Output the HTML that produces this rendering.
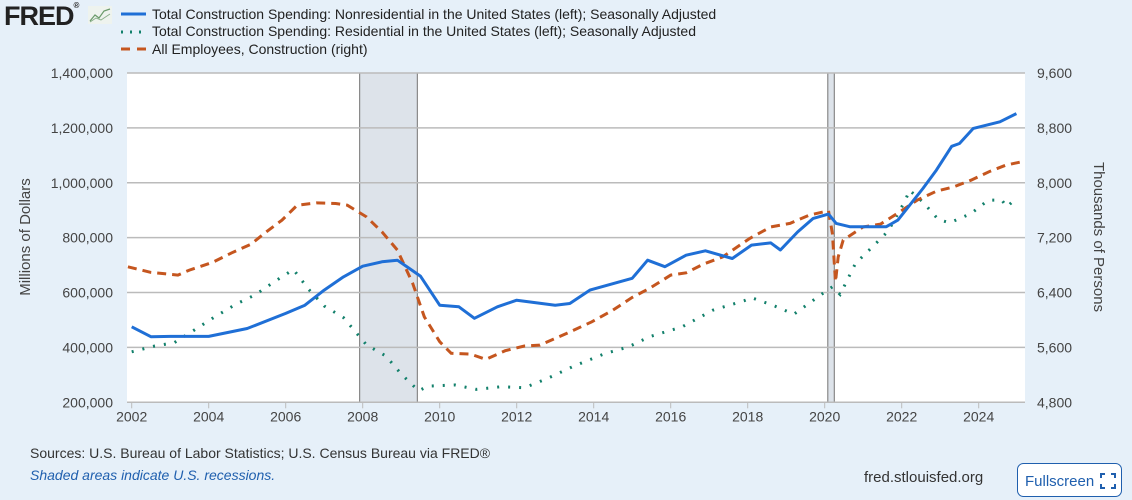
<!DOCTYPE html>
<html><head><meta charset="utf-8">
<style>
body{margin:0;width:1132px;height:500px;background:#e6f0f9;font-family:"Liberation Sans",sans-serif;overflow:hidden;position:relative}
.abs{position:absolute}
</style></head>
<body>
<div class="abs" style="left:4px;top:1px;font-size:27px;font-weight:900;color:#222;letter-spacing:-1px">FRED<span style="font-size:8px;vertical-align:top">®</span></div>
<svg class="abs" style="left:88px;top:6px" width="24" height="18"><rect width="24" height="18" fill="#eef3ee"/><polyline points="2,15 7,9 11,12 16,5 22,3" fill="none" stroke="#6a9a6a" stroke-width="1.2"/><polyline points="2,16 8,12 13,14 22,8" fill="none" stroke="#8ab08a" stroke-width="1"/></svg>
<svg class="abs" style="left:0;top:0" width="1132" height="500" id="chart">
<g font-size="14" fill="#222">
<line x1="121" y1="14" x2="146" y2="14" stroke="#1f6fd6" stroke-width="3"/>
<text x="152" y="19">Total Construction Spending: Nonresidential in the United States (left); Seasonally Adjusted</text>
<line x1="121" y1="32" x2="146" y2="32" stroke="#12806b" stroke-width="3" stroke-dasharray="2,7"/>
<text x="152" y="36">Total Construction Spending: Residential in the United States (left); Seasonally Adjusted</text>
<line x1="121" y1="49" x2="146" y2="49" stroke="#c5561f" stroke-width="3" stroke-dasharray="9,7"/>
<text x="152" y="54">All Employees, Construction (right)</text>
</g>
<rect x="127" y="73" width="898" height="329" fill="#fff"/>
<g id="rec"></g><g id="grid"></g><g id="axes"></g><g id="series"></g>
<text transform="translate(30,237) rotate(-90)" text-anchor="middle" font-size="15" fill="#444">Millions of Dollars</text>
<text transform="translate(1094,237) rotate(90)" text-anchor="middle" font-size="15" fill="#444">Thousands of Persons</text>
<text x="30" y="458" font-size="14" fill="#333">Sources: U.S. Bureau of Labor Statistics; U.S. Census Bureau via FRED®</text>
<text x="30" y="480" font-size="14" font-style="italic" fill="#1f5fae">Shaded areas indicate U.S. recessions.</text>
<text x="864" y="482" font-size="15" fill="#333">fred.stlouisfed.org</text>
<g>
<rect x="1017.5" y="463.5" width="104" height="33" rx="6" fill="#fff" stroke="#1f5fae"/>
<text x="1025" y="486" font-size="15" fill="#1f5fae">Fullscreen</text>
<path d="M1101 478v-4h4M1111 474h4v4M1115 484v4h-4M1105 488h-4v-4" stroke="#1f5fae" stroke-width="2" fill="none"/>
</g>
</svg>
<script>
const leftTicks=[200000,400000,600000,800000,1000000,1200000,1400000];
const rightTicks=[4800,5600,6400,7200,8000,8800,9600];
const yearTicks=[2002,2004,2006,2008,2010,2012,2014,2016,2018,2020,2022,2024];
const recessions=[[2007.92,2009.42],[2020.08,2020.25]];
const nonresDates=[2002.0,2002.5,2003.0,2004.0,2005.0,2006.0,2006.5,2007.0,2007.5,2008.0,2008.5,2008.9,2009.2,2009.5,2010.0,2010.5,2010.9,2011.5,2012.0,2013.0,2013.38,2013.9,2015.0,2015.4,2015.85,2016.4,2016.9,2017.6,2018.1,2018.6,2018.85,2019.3,2019.7,2020.1,2020.3,2020.65,2021.6,2021.9,2022.55,2022.9,2023.3,2023.5,2023.86,2024.55,2024.98];
const nonresVals=[475000,439000,440000,440000,469000,524000,554000,609000,657000,696000,712000,718000,689000,660000,554000,548000,506000,548000,572000,554000,560000,609000,652000,718000,694000,736000,752000,724000,773000,781000,755000,821000,870000,886000,852000,840000,840000,864000,979000,1046000,1133000,1143000,1198000,1222000,1252000];
const resDates=[2002.0,2002.6,2003.1,2003.6,2004.1,2004.7,2005.2,2005.7,2006.2,2006.6,2007.0,2007.5,2008.1,2008.6,2009.0,2009.45,2009.7,2010.4,2010.95,2011.6,2012.2,2012.8,2013.5,2014.3,2014.9,2015.45,2016.3,2017.1,2017.9,2018.1,2018.65,2019.2,2019.95,2020.2,2020.4,2020.8,2021.2,2021.65,2022.1,2022.2,2022.55,2022.95,2023.25,2023.8,2024.25,2024.6,2024.73,2024.94];
const resVals=[384000,405000,417000,461000,506000,557000,591000,639000,684000,611000,551000,509000,409000,369000,303000,242000,259000,263000,247000,257000,253000,287000,333000,378000,402000,439000,475000,536000,570000,581000,554000,521000,597000,621000,593000,706000,761000,824000,937000,973000,930000,866000,854000,888000,937000,937000,912000,939000];
const empDates=[2001.9,2002.5,2003.2,2003.5,2004.1,2004.6,2005.1,2005.5,2005.9,2006.3,2006.8,2007.3,2007.6,2008.1,2008.5,2008.9,2009.3,2009.6,2010.0,2010.3,2010.8,2011.2,2011.7,2012.2,2012.6,2013.3,2013.95,2014.5,2015.0,2015.45,2016.0,2016.4,2016.85,2017.35,2018.05,2018.6,2019.1,2019.6,2020.1,2020.2,2020.28,2020.35,2020.48,2021.0,2021.45,2021.95,2022.4,2022.9,2023.35,2023.8,2024.3,2024.7,2025.1];
const empVals=[6775,6693,6654,6727,6839,6979,7105,7285,7455,7673,7707,7698,7673,7503,7285,7018,6533,6047,5683,5514,5503,5426,5552,5620,5634,5805,5974,6144,6329,6460,6654,6688,6814,6920,7188,7357,7407,7528,7591,7261,6556,6920,7164,7357,7397,7576,7746,7877,7940,8037,8168,8256,8304];
const X0=127,X1=1025,Y0=73,Y1=402.3;
const xS=y=>131.7+(y-2002)*38.5;
const yL=v=>Y1-(v-200000)/1200000*(Y1-Y0);
const yR=v=>Y1-(v-4800)/4800*(Y1-Y0);
const NS='http://www.w3.org/2000/svg';
function mk(tag,attrs,parent){const e=document.createElementNS(NS,tag);for(const k in attrs)e.setAttribute(k,attrs[k]);document.getElementById(parent).appendChild(e);return e;}
recessions.forEach(r=>{
 const e=mk('rect',{x:xS(r[0]),y:Y0,width:xS(r[1])-xS(r[0]),height:Y1-Y0,fill:'#dde3ea'},'rec');
 
 
 [r[0],r[1]].forEach(t=>{const l=mk('line',{x1:xS(t),x2:xS(t),y1:Y0,y2:Y1,stroke:'#888','stroke-width':1.2},'rec');
 
 });
});
leftTicks.forEach((v,i)=>{
 const l=mk('line',{x1:X0,x2:X1,y1:yL(v),y2:yL(v),stroke:'#bbb','stroke-width':1.5},'grid');
 
 
 const t=mk('text',{x:113,y:yL(v)+5,'text-anchor':'end','font-size':14,fill:'#444'},'axes');
 t.textContent=v.toLocaleString('en-US');
 
 
 const t2=mk('text',{x:1037,y:yR(rightTicks[i])+5,'font-size':14,fill:'#444'},'axes');
 t2.textContent=rightTicks[i].toLocaleString('en-US');
 
 
});
yearTicks.forEach(y=>{
 const l=mk('line',{x1:xS(y),x2:xS(y),y1:Y1,y2:Y1+6,stroke:'#bbb'},'axes');
 
 
 const t=mk('text',{x:xS(y),y:Y1+19,'text-anchor':'middle','font-size':14,fill:'#444'},'axes');
 t.textContent=y;
 
 
});
function series(d,v,ys,attrs,name){
 const p=d.map((t,i)=>xS(t).toFixed(1)+','+ys(v[i]).toFixed(1)).join(' ');
 const e=mk('polyline',Object.assign({points:p,fill:'none'},attrs),'series');
 
 
}
series(resDates,resVals,yL,{stroke:'#12806b','stroke-width':3,'stroke-dasharray':'2,9','stroke-linecap':'butt'},'residential-series');
series(empDates,empVals,yR,{stroke:'#c5561f','stroke-width':3,'stroke-dasharray':'9,6'},'employees-series');
series(nonresDates,nonresVals,yL,{stroke:'#1f6fd6','stroke-width':3,'stroke-linejoin':'round'},'nonresidential-series');
</script>
</body></html>
